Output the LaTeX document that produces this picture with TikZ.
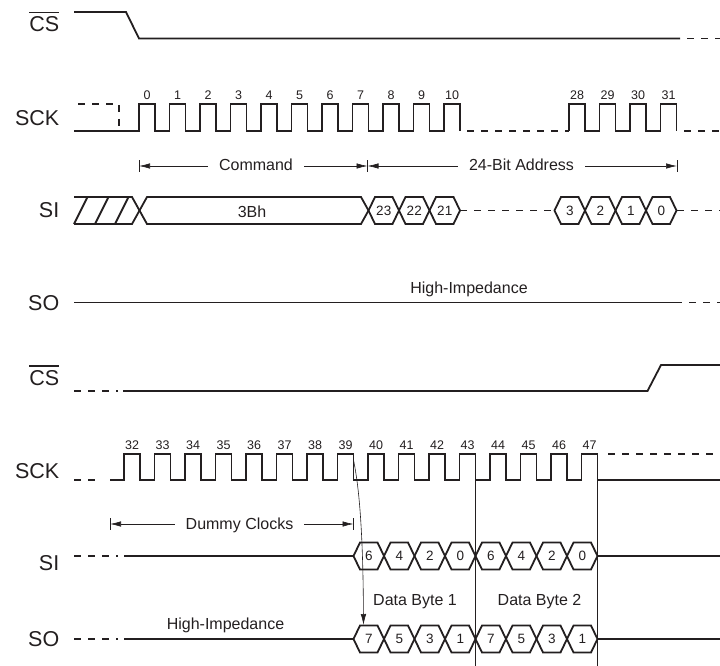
\documentclass[tikz,border=0pt]{standalone}
\usepackage{fontspec}
\setmainfont{Liberation Sans}
\usetikzlibrary{arrows.meta}

\definecolor{ink}{RGB}{35,31,32}
\newcommand\ovl[1]{\vbox{\hrule height 1.3pt\kern 3.2pt\hbox{#1}}}

\begin{document}
\begin{tikzpicture}[%
  x=1pt, y=-1pt, color=ink,
  wave/.style = {line width=1.8pt, line join=miter},
  hiz/.style  = {wave, dash pattern=on 7pt off 7pt},
  guide/.style = {line width=0.6pt},
  sig/.style  = {font=\fontsize{21.5}{22}\selectfont, anchor=base east, inner sep=0pt},
  num/.style  = {font=\fontsize{12.5}{13}\selectfont, anchor=base, inner sep=0pt},
  bit/.style  = {font=\fontsize{13.5}{14}\selectfont, inner sep=0pt},
  lbl/.style  = {font=\fontsize{16}{17}\selectfont, anchor=base, inner sep=0pt},
  span/.style = {lbl, inner xsep=11pt},
  >={Latex[length=11pt,width=5.5pt]},
]
  \useasboundingbox (0,0) rectangle (720,666);

  \node[sig] (cs1)  at (59.5,31.5) {\ovl{CS}};
  \node[sig] (sck1) at (59.5,125)  {SCK};
  \node[sig] (si1)  at (59.5,217)  {SI};
  \node[sig] (so1)  at (59.5,310)  {SO};
  \node[sig] (cs2)  at (59.5,385)  {\ovl{CS}};
  \node[sig] (sck2) at (59.5,478)  {SCK};
  \node[sig] (si2)  at (59.5,570)  {SI};
  \node[sig] (so2)  at (59.5,646)  {SO};

  \draw[wave] (74,12) -- (126,12) -- (139,38.5) -- (680,38.5);
  \draw[hiz, dash phase=7pt] (680,38.5) -- (720,38.5);

  \draw[hiz] (78,104) -- (119,104) -- (119,131);
  \draw[wave] (74,131) foreach \k in {0,...,10} {
    -- ({139+30.5*\k},131) -- ++(0,-27) -- ++(16,0) -- ++(0,27) };
  \draw[hiz, dash phase=7pt] (460,131) -- (569,131);
  \draw[wave] (569,131) foreach \k in {0,...,3} {
    -- ({569+30.5*\k},131) -- ++(0,-27) -- ++(16,0) -- ++(0,27) };
  \draw[hiz, dash phase=7pt] (677,131) -- (720,131);
  \foreach \k in {0,...,10}
    \node[num] (c\k) at ({147+30.5*\k},100) {\k};
  \foreach \k [count=\i from 0] in {28,...,31}
    \node[num] (c\k) at ({577+30.5*\i},100) {\k};

  \coordinate (cmdL) at (139,166);
  \coordinate (cmdR) at (367.5,166);
  \coordinate (adrR) at (677,166);
  \node[span] (cmd) at (256,170.5) {Command};
  \node[span] (adr) at (521.5,170.5) {24-Bit Address};
  \draw[guide,->] (cmd.west |- cmdL) -- (cmdL);
  \draw[guide,->] (cmd.east |- cmdR) -- (cmdR);
  \draw[guide,->] (adr.west |- cmdR) -- (cmdR);
  \draw[guide,->] (adr.east |- adrR) -- (adrR);
  \foreach \c in {cmdL,cmdR,adrR}
    \draw[guide] ([yshift=6pt]\c) -- ([yshift=-6pt]\c);

  \draw[wave] (74,197) -- (132,197) -- (139.5,210.5) -- (132,224) -- (74,224);
  \foreach \x in {74,95,115}
    \draw[wave] (\x,224) -- ++(13.5,-27);
  \draw[wave] (139.5,210.5) -- (147,197) -- (361,197) -- (368.5,210.5)
    -- (361,224) -- (147,224) -- cycle;
  \node[lbl] (opc) at (252,217) {3Bh};
  \foreach \b [count=\i from 0] in {23,22,21} {
    \draw[wave] ({368.5+30.5*\i},210.5) -- ++(6.5,-13.5) -- ++(17.5,0)
      -- ++(6.5,13.5) -- ++(-6.5,13.5) -- ++(-17.5,0) -- cycle;
    \node[bit] (a\b) at ({383.75+30.5*\i},210.5) {\b};
  }
  \draw[hiz] (460,210.5) -- (554.5,210.5);
  \foreach \b [count=\i from 0] in {3,2,1,0} {
    \draw[wave] ({554.5+30.5*\i},210.5) -- ++(6.5,-13.5) -- ++(17.5,0)
      -- ++(6.5,13.5) -- ++(-6.5,13.5) -- ++(-17.5,0) -- cycle;
    \node[bit] (a\b) at ({569.75+30.5*\i},210.5) {\b};
  }
  \draw[hiz] (677,210.5) -- (720,210.5);

  \draw[wave] (74,302.5) -- (682,302.5);
  \draw[hiz, dash phase=7pt] (682,302.5) -- (720,302.5);
  \node[lbl] (hz1) at (469,293) {High-Impedance};

  \draw[hiz] (74,391) -- (118,391);
  \draw[wave] (123,391) -- (647.5,391) -- (661,365) -- (720,365);

  \draw[hiz] (74,480) -- (101,480);
  \draw[wave] (110,480) foreach \k in {0,...,15} {
    -- ({124+30.5*\k},480) -- ++(0,-26) -- ++(16,0) -- ++(0,26) } -- (720,480);
  \draw[hiz] (608,454) -- (720,454);
  \foreach \k [count=\i from 0] in {32,...,47}
    \node[num] (c\k) at ({132+30.5*\i},449) {\k};

  \coordinate (dumL) at (110,524);
  \coordinate (dumR) at (353.5,524);
  \node[span] (dum) at (239.5,529) {Dummy Clocks};
  \draw[guide,->] (dum.west |- dumL) -- (dumL);
  \draw[guide,->] (dum.east |- dumR) -- (dumR);
  \foreach \c in {dumL,dumR}
    \draw[guide] ([yshift=6pt]\c) -- ([yshift=-6pt]\c);

  \draw[hiz] (74,556) -- (118,556);
  \draw[wave] (124,556) -- (353.5,556);
  \foreach \b [count=\i from 0] in {6,4,2,0,6,4,2,0} {
    \draw[wave] ({353.5+30.5*\i},556) -- ++(6.5,-13.5) -- ++(17.5,0)
      -- ++(6.5,13.5) -- ++(-6.5,13.5) -- ++(-17.5,0) -- cycle;
    \node[bit] (i\i) at ({368.75+30.5*\i},556) {\b};
  }
  \draw[wave] (597.5,556) -- (720,556);

  \draw[hiz] (74,639) -- (118,639);
  \draw[wave] (124,639) -- (353.5,639);
  \foreach \b [count=\i from 0] in {7,5,3,1,7,5,3,1} {
    \draw[wave] ({353.5+30.5*\i},639) -- ++(6.5,-13.5) -- ++(17.5,0)
      -- ++(6.5,13.5) -- ++(-6.5,13.5) -- ++(-17.5,0) -- cycle;
    \node[bit] (o\i) at ({368.75+30.5*\i},639) {\b};
  }
  \draw[wave] (597.5,639) -- (720,639);
  \node[lbl] (hz2) at (225.5,629) {High-Impedance};

  \node[lbl] (db1) at (415,605) {Data Byte 1};
  \node[lbl] (db2) at (539.5,605) {Data Byte 2};
  \draw[guide] (475.5,480) -- (475.5,666);
  \draw[guide] (597.5,480) -- (597.5,666);

  \coordinate (clk39) at (353.5,460);
  \coordinate (out7) at (363.5,625);
  \draw[guide,->] (clk39) .. controls (358,482) and (363,520) .. (out7);

\end{tikzpicture}
\end{document}
